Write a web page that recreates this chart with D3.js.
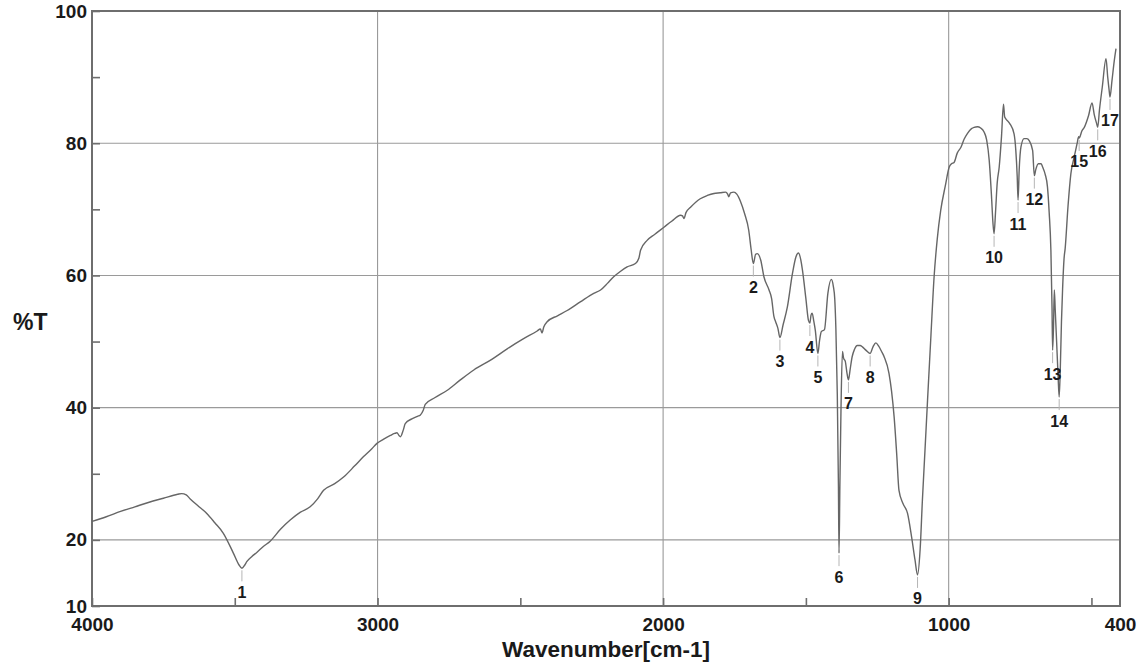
<!DOCTYPE html>
<html>
<head>
<meta charset="utf-8">
<script src="https://cdn.jsdelivr.net/npm/d3@7"></script>
<style>
  html, body { margin: 0; padding: 0; background: #fff; }
  svg { display: block; }
  text { font-family: "Liberation Sans", Arial, Helvetica, sans-serif; fill: #1a1a1a; }
</style>
</head>
<body>
<svg id="chart" width="1143" height="665"></svg>
<script>
// ---- data ----
const wavenumber = [4000,3950,3900,3850,3800,3750,3700,3686,3670,3656,3630,3598,3570,3540,3505,3485,3475,3465,3458,3440,3423,3400,3376,3340,3306,3270,3236,3210,3189,3150,3119,3080,3049,3020,3002,2980,2955,2940,2932,2925,2920,2910,2903,2880,2860,2850,2840,2833,2800,2757,2710,2663,2600,2546,2490,2441,2430,2424,2418,2406,2370,2336,2290,2243,2219,2195,2173,2150,2126,2097,2085,2079,2056,2030,1997,1970,1939,1932,1927,1920,1904,1870,1845,1822,1800,1781,1774,1770,1764,1752,1742,1729,1715,1700,1692,1684,1676,1670,1658,1647,1629,1620,1612,1606,1598,1591,1580,1565,1547,1535,1526,1518,1512,1500,1491,1486,1482,1478,1472,1467,1458,1452,1446,1435,1423,1411,1404,1399,1395,1390,1386,1384,1381,1377,1372,1368,1362,1356,1351,1345,1338,1330,1320,1310,1302,1290,1275,1265,1255,1245,1235,1226,1209,1200,1191,1182,1174,1160,1144,1130,1118,1109,1100,1092,1083,1074,1062,1051,1040,1028,1012,998,990,981,970,957,946,934,920,911,899,888,876,867,858,850,845,841,836,830,823,815,808,804,800,792,785,771,765,760,757,753,747,736,726,718,706,700,695,686,676,671,662,654,648,642,638,636,633,630,627,622,617,613,609,605,601,596,592,582,572,560,550,545,543,540,534,525,510,498,490,482,478,472,462,449,443,438,435,428,420,414];
const transmittance = [22.8,23.5,24.3,25.0,25.7,26.3,26.9,27.0,26.8,26.2,25.2,24.0,22.6,21.0,18.0,16.2,15.7,16.2,16.7,17.5,18.1,19.0,19.8,21.6,23.0,24.2,25.0,26.2,27.5,28.5,29.5,31.2,32.6,33.8,34.6,35.2,35.8,36.1,36.2,35.8,35.6,36.6,37.6,38.3,38.7,38.9,39.6,40.5,41.5,42.6,44.2,45.7,47.3,48.9,50.4,51.6,51.9,51.3,52.2,53.0,53.9,54.7,56.0,57.3,57.8,58.8,59.8,60.6,61.3,61.8,62.6,63.8,65.3,66.2,67.3,68.2,69.1,69.0,68.6,69.5,70.3,71.6,72.1,72.4,72.5,72.6,72.3,71.9,72.5,72.6,72.3,71.2,69.4,66.8,64.0,61.8,63.2,63.3,62.3,59.8,57.8,56.5,53.8,53.0,52.0,50.6,52.5,55.2,60.3,62.8,63.4,62.4,60.8,56.5,53.2,52.8,54.0,54.3,53.0,51.7,48.2,50.2,51.5,51.8,57.3,59.4,58.4,56.5,52.0,42.0,28.0,18.0,28.0,40.0,48.5,47.5,47.0,45.2,44.2,45.8,47.7,48.8,49.4,49.4,49.2,48.7,48.2,49.2,49.8,49.3,48.5,47.7,45.2,42.5,38.6,33.0,27.5,25.5,24.0,20.5,17.0,14.7,18.5,26.0,33.5,41.1,51.0,59.8,65.5,69.8,73.5,76.4,76.9,77.1,78.5,79.4,80.6,81.5,82.2,82.4,82.5,82.3,81.7,80.5,77.4,72.0,68.0,66.3,69.5,74.0,76.4,81.0,85.9,84.0,83.7,83.3,82.9,81.4,79.0,75.0,71.4,76.0,79.4,80.7,80.7,80.4,78.9,75.1,76.0,76.9,76.9,76.4,75.3,73.4,69.5,63.8,55.0,48.7,52.0,57.8,55.0,50.0,45.0,41.6,46.0,53.0,58.0,62.5,64.1,70.5,75.4,78.0,80.0,81.0,80.8,81.0,81.8,82.4,84.2,86.1,84.3,83.0,82.4,85.0,88.5,92.8,90.0,88.0,87.0,89.5,92.5,94.3];

const peakNumbers = [1,2,3,4,5,6,7,8,9,10,11,12,13,14,15,16,17];
const peakWavenumbers = [3475,1684,1591,1486,1458,1384,1351,1275,1109,841,757,700,636,613,543,478,435];

const xTickValues = [4000,3500,3000,2500,2000,1500,1000,500,400];
const xTickLabels = {4000:"4000",3000:"3000",2000:"2000",1000:"1000",400:"400"};
const xGridValues = [3000,2000,1000];
const yTickValues = [10,20,30,40,50,60,70,80,90,100];
const yTickLabels = {10:"10",20:"20",40:"40",60:"60",80:"80",100:"100"};
const yGridValues = [20,40,60,80];

const xTitle = "Wavenumber[cm-1]";
const yTitle = "%T";

// ---- drawing ----
(function () {
const svg = d3.select("#chart");
const pL = 92, pR = 1120, pT = 11, pB = 606;

const x = d3.scaleLinear().domain([4000, 400]).range([pL, pR]);
const y = d3.scaleLinear().domain([10, 100]).range([pB, pT]);

const frameColor = "#6e6e6e";
const gridColor = "#9a9a9a";

// grid
svg.append("g").selectAll("line").data(yGridValues).join("line")
  .attr("x1", pL).attr("x2", pR)
  .attr("y1", d => y(d)).attr("y2", d => y(d))
  .attr("stroke", gridColor).attr("stroke-width", 1.1);
svg.append("g").selectAll("line").data(xGridValues).join("line")
  .attr("x1", d => x(d)).attr("x2", d => x(d))
  .attr("y1", pT).attr("y2", pB)
  .attr("stroke", gridColor).attr("stroke-width", 1.1);

// axes
const yAxis = d3.axisLeft(y).tickValues(yTickValues)
  .tickFormat(d => yTickLabels[d] || "")
  .tickSizeInner(-8).tickSizeOuter(0).tickPadding(5);
const gy = svg.append("g").attr("transform", `translate(${pL},0)`).call(yAxis);
gy.select(".domain").remove();
gy.selectAll(".tick line").attr("stroke", frameColor).attr("stroke-width", 1.6);
gy.selectAll(".tick text").attr("font-size", 19).attr("font-weight", "bold").attr("fill", "#1a1a1a");

const xAxis = d3.axisBottom(x).tickValues(xTickValues)
  .tickFormat(d => xTickLabels[d] || "")
  .tickSizeInner(-8).tickSizeOuter(0).tickPadding(12);
const gx = svg.append("g").attr("transform", `translate(0,${pB})`).call(xAxis);
gx.select(".domain").remove();
gx.selectAll(".tick line").attr("stroke", frameColor).attr("stroke-width", 1.6);
gx.selectAll(".tick text").attr("font-size", 19).attr("font-weight", "bold").attr("fill", "#1a1a1a");
gx.selectAll(".tick").filter(d => d === 400).select("line").attr("y2", 0);

// frame
svg.append("rect").attr("x", pL).attr("y", pT)
  .attr("width", pR - pL).attr("height", pB - pT)
  .attr("fill", "none").attr("stroke", frameColor).attr("stroke-width", 2);

// spectrum
const pts = wavenumber.map((w, i) => [w, transmittance[i]]);
const line = d3.line().x(d => x(d[0])).y(d => y(d[1])).curve(d3.curveMonotoneX);
svg.append("path").datum(pts).attr("d", line)
  .attr("fill", "none").attr("stroke", "#666").attr("stroke-width", 1.4)
  .attr("stroke-linejoin", "round");

// peak markers
const peaks = peakNumbers.map((n, i) => {
  const w = peakWavenumbers[i];
  const idx = wavenumber.indexOf(w);
  return { n, w, t: transmittance[idx] };
});
const pg = svg.append("g");
pg.selectAll("line").data(peaks).join("line")
  .attr("x1", d => x(d.w)).attr("x2", d => x(d.w))
  .attr("y1", d => y(d.t) + 2).attr("y2", d => y(d.t) + 13)
  .attr("stroke", "#b5b5b5").attr("stroke-width", 1);
pg.selectAll("text").data(peaks).join("text")
  .attr("x", d => x(d.w)).attr("y", d => y(d.t) + 24)
  .attr("text-anchor", "middle").attr("dominant-baseline", "central")
  .attr("font-size", 16).attr("font-weight", "bold").attr("fill", "#222")
  .text(d => d.n);

// titles
svg.append("text").attr("x", 606).attr("y", 657)
  .attr("text-anchor", "middle").attr("font-size", 22.5).attr("font-weight", "bold")
  .text(xTitle);
svg.append("text").attr("x", 13).attr("y", 330)
  .attr("font-size", 23).attr("font-weight", "bold")
  .text(yTitle);
})();
</script>
</body>
</html>
